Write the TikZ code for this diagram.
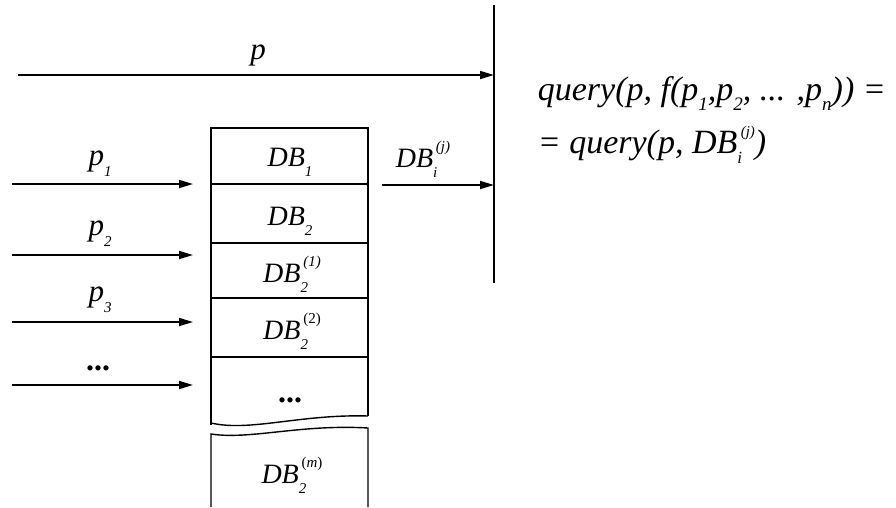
\documentclass[tikz,border=0pt]{standalone}
\usepackage{fontspec}
\setmainfont{Liberation Serif}
\usetikzlibrary{arrows.meta}
\newcommand{\sbx}[1]{\raisebox{-0.38em}{\fontsize{15}{15}\selectfont #1}}
\newcommand{\ssx}[2]{\rlap{\raisebox{-0.38em}{\fontsize{15}{15}\selectfont #1}}\raisebox{0.55em}{\kern0.1em\fontsize{15}{15}\selectfont #2}}
\newcommand{\qsb}[1]{\raisebox{-0.3em}{\fontsize{19}{19}\selectfont #1}}
\newcommand{\qss}[2]{\rlap{\raisebox{-0.3em}{\fontsize{17}{17}\selectfont #1}}\raisebox{0.5em}{\kern0.1em\fontsize{15}{15}\selectfont #2}}
\begin{document}
\begin{tikzpicture}[x=1pt,y=-1pt,line width=1.7pt,
  arr/.style={-{Triangle[length=14pt,width=8pt]}},
  boxline/.style={line width=1.4pt},
  plab/.style={font=\fontsize{31}{34}\selectfont\itshape,inner sep=0pt,anchor=base},
  dblab/.style={font=\fontsize{28}{32}\selectfont\itshape,inner sep=0pt,anchor=base},
  qlab/.style={font=\fontsize{34}{38}\selectfont\itshape,inner sep=0pt,anchor=base west}]
\useasboundingbox (0,0) rectangle (896,507);
% coordinates
\coordinate (ps) at (18,75);
\coordinate (vt) at (494,5);
\coordinate (vb) at (494,283);
\coordinate (pe) at (494,75);
\coordinate (a1s) at (12,184); \coordinate (a1e) at (193,184);
\coordinate (a2s) at (12,255); \coordinate (a2e) at (193,255);
\coordinate (a3s) at (12,322); \coordinate (a3e) at (193,322);
\coordinate (a4s) at (12,385); \coordinate (a4e) at (193,385);
\coordinate (dbs) at (382,185); \coordinate (dbe) at (494,185);
% vertical line
\draw (vt) -- (vb);
% top arrow p
\draw[arr] (ps) -- (pe);
\node[plab] (lp) at (258,59) {p};
% left arrows
\draw[arr] (a1s) -- (a1e);
\draw[arr] (a2s) -- (a2e);
\draw[arr] (a3s) -- (a3e);
\draw[arr] (a4s) -- (a4e);
\node[plab] (lp1) at (100,165) {p\sbx{1}};
\node[plab] (lp2) at (100,235) {p\sbx{2}};
\node[plab] (lp3) at (100,301) {p\sbx{3}};
\node[plab,font=\fontsize{32}{34}\selectfont\bfseries] (ld) at (98,370) {...};
% database box
\draw[boxline] (211,425) -- (211,128) -- (368,128) -- (368,416);
\draw[boxline] (211,184) -- (368,184);
\draw[boxline] (211,243) -- (368,243);
\draw[boxline] (211,298) -- (368,298);
\draw[boxline] (211,357) -- (368,357);
\draw[boxline] (211,423) .. controls (250,432) and (300,414) .. (368,416);
\draw[boxline] (211,507) -- (211,434) .. controls (250,440) and (300,424) .. (368,428) -- (368,507);
\node[dblab] (db1) at (290,166) {DB\sbx{1}};
\node[dblab] (db2) at (290,225) {DB\sbx{2}};
\node[dblab] (db21) at (292,282) {DB\ssx{2}{(1)}};
\node[dblab] (db22) at (292,339) {DB\ssx{2}{\upshape(2)}};
\node[dblab,font=\fontsize{32}{34}\selectfont\bfseries] (dbd) at (290,402) {...};
\node[dblab] (dbm) at (292,483) {DB\ssx{2}{\upshape(\itshape m\upshape)}};
% DB_i^(j) arrow
\draw[arr] (dbs) -- (dbe);
\node[dblab] (dbij) at (423,167) {DB\ssx{i}{(j)}};
% formula
\node[qlab] (q1) at (537,100) {query(p, f(p\qsb{1},p\qsb{2}, ... ,p\qsb{n})) =};
\node[qlab] (q2) at (537,153) {= query(p, DB\qss{i}{(j)})};
\end{tikzpicture}
\end{document}
